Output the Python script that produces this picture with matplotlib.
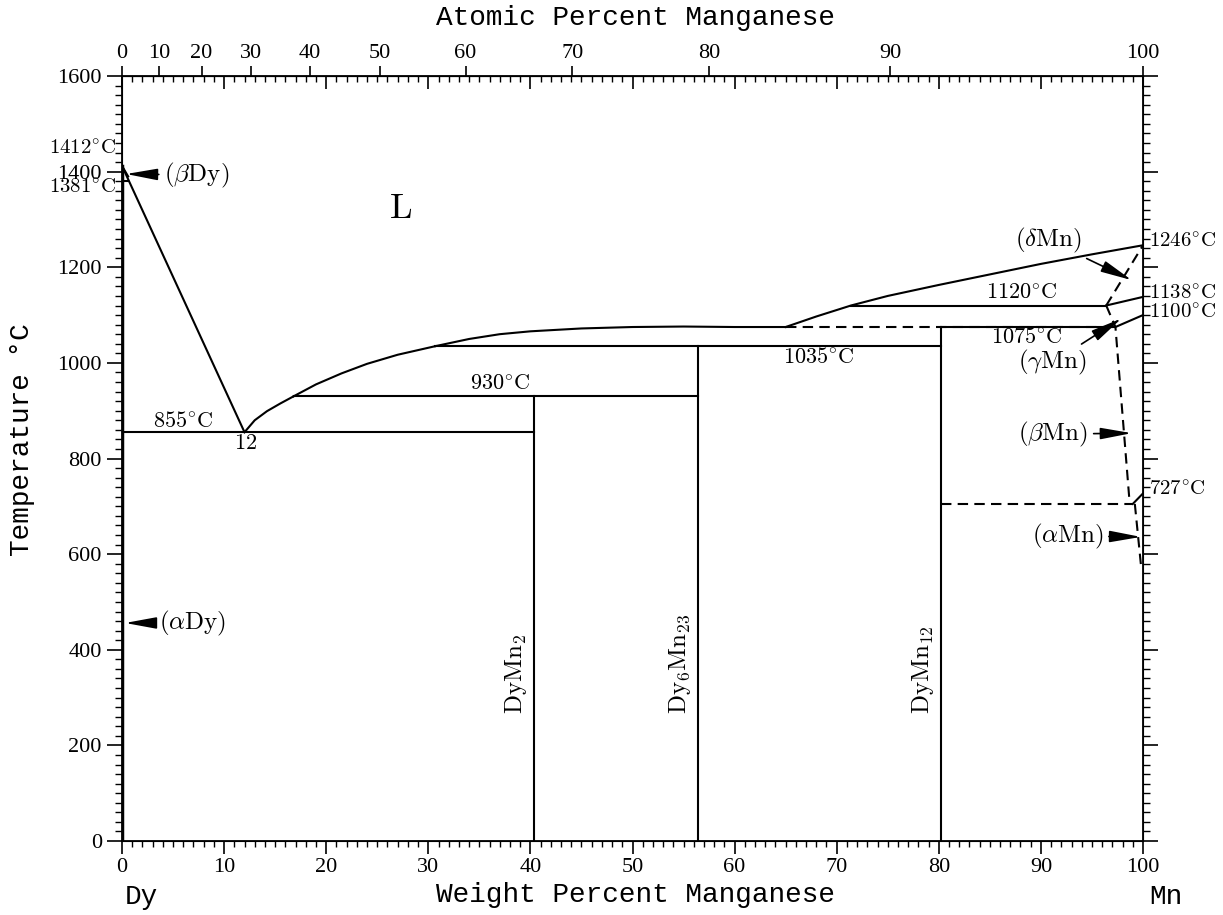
import numpy as np
import matplotlib
matplotlib.use('Agg')
import matplotlib.pyplot as plt
from matplotlib.ticker import MultipleLocator

plt.rcParams['font.family'] = ['Liberation Serif', 'DejaVu Serif']
plt.rcParams['mathtext.fontset'] = 'cm'

# atomic masses for the top axis
M_DY = 162.5
M_MN = 54.938

def at2wt(a):
    a = np.asarray(a, dtype=float)
    return 100 * a * M_MN / (a * M_MN + (100 - a) * M_DY)

# phase boundaries (wt% Mn, degC)
liq_dy_x = [0, 12]
liq_dy_t = [1412, 855]
liq1_x = [12, 13, 14.2, 15.5, 16.8]
liq1_t = [855, 880, 899, 915, 930]
liq2_x = [16.8, 19, 21.5, 24, 27, 30.7]
liq2_t = [930, 955, 978, 998, 1017, 1035]
liq3_x = [30.7, 34, 37, 40, 45, 50, 55, 60, 65]
liq3_t = [1035, 1050, 1060, 1066, 1072, 1075, 1076, 1075, 1075]
liq4_x = [65, 68, 71.4, 75, 80, 85, 90, 95, 100]
liq4_t = [1075, 1097, 1120, 1140, 1163, 1185, 1207, 1227, 1246]

# horizontals: (x0, x1, T)
horiz = [(0, 40.34, 855), (16.8, 56.44, 930), (30.7, 80.23, 1035),
         (80.23, 97.3, 1075), (71.4, 96.4, 1120)]
horiz_dashed = [(65, 97.3, 1075), (80.23, 99.0, 705)]

# compounds (wt% Mn, top temperature)
comp_x = [40.34, 56.44, 80.23]
comp_t = [930, 1035, 1075]
comp_lbl = [r'$\mathrm{DyMn}_2$', r'$\mathrm{Dy}_6\mathrm{Mn}_{23}$', r'$\mathrm{DyMn}_{12}$']

# Mn side solid lines
mn_solid = [([96.4, 100], [1120, 1138]), ([97.3, 100], [1075, 1100]),
            ([99.0, 100], [705, 727]), ([0, 0.6], [1412, 1390]), ([0, 0.6], [1381, 1381])]
# Mn side dashed lines
mn_dashed = [([96.4, 100], [1120, 1246]), ([96.4, 97.3, 98.7], [1120, 1075, 705]),
             ([99.2, 99.8], [705, 577])]

fig = plt.figure(figsize=(12.23, 9.15), dpi=100)
ax = fig.add_axes([122 / 1223, 74 / 915, 1021 / 1223, 765 / 915])
ax.set_xlim(0, 100)
ax.set_ylim(0, 1600)

lw = 1.5
k = 'black'
ax.plot([0, 0], [0, 1412], color=k, lw=2.5)
ax.plot(liq_dy_x, liq_dy_t, color=k, lw=lw)
for xs, ts in [(liq1_x, liq1_t), (liq2_x, liq2_t), (liq3_x, liq3_t), (liq4_x, liq4_t)]:
    ax.plot(xs, ts, color=k, lw=lw)
for x0, x1, t in horiz:
    ax.plot([x0, x1], [t, t], color=k, lw=lw)
for x0, x1, t in horiz_dashed:
    ax.plot([x0, x1], [t, t], color=k, lw=lw, ls=(0, (5, 3)))
for x, t in zip(comp_x, comp_t):
    ax.plot([x, x], [0, t], color=k, lw=lw)
for xs, ts in mn_solid:
    ax.plot(xs, ts, color=k, lw=lw)
for xs, ts in mn_dashed:
    ax.plot(xs, ts, color=k, lw=lw, ls=(0, (5, 3)))

for x, lbl in zip(comp_x, comp_lbl):
    ax.text(x - 0.5, 265, lbl, rotation=90, rotation_mode='anchor',
            ha='left', va='bottom', fontsize=18)

fs = 16
ax.text(27.3, 1320, r'$\mathrm{L}$', fontsize=26, ha='center', va='center')
ax.text(6, 876, r'$\mathrm{855^{\circ}C}$', fontsize=fs, ha='center', va='center')
ax.text(12.1, 830, r'$\mathrm{12}$', fontsize=fs, ha='center', va='center')
ax.text(37, 953, r'$\mathrm{930^{\circ}C}$', fontsize=fs, ha='center', va='center')
ax.text(68.2, 1010, r'$\mathrm{1035^{\circ}C}$', fontsize=fs, ha='center', va='center')
ax.text(88.1, 1144, r'$\mathrm{1120^{\circ}C}$', fontsize=fs, ha='center', va='center')
ax.text(88.6, 1052, r'$\mathrm{1075^{\circ}C}$', fontsize=fs, ha='center', va='center')
for t_lbl, t_pos in [(1246, 1251), (1138, 1143), (1100, 1102), (727, 733)]:
    ax.text(100.6, t_pos, r'$\mathrm{%d^{\circ}C}$' % t_lbl, fontsize=15,
            ha='left', va='center', clip_on=False)
ax.text(-0.6, 1446, r'$\mathrm{1412^{\circ}C}$', fontsize=15, ha='right', va='center', clip_on=False)
ax.text(-0.6, 1364, r'$\mathrm{1381^{\circ}C}$', fontsize=15, ha='right', va='center', clip_on=False)

arrow = dict(arrowstyle='-|>,head_length=1.2,head_width=0.22', color=k, lw=1.2,
             mutation_scale=16, shrinkA=2, shrinkB=0)
afs = 18
ax.annotate(r'$(\beta\mathrm{Dy})$', xy=(0.4, 1395), xytext=(7.35, 1393),
            fontsize=afs, ha='center', va='center', arrowprops=arrow)
ax.annotate(r'$(\alpha\mathrm{Dy})$', xy=(0.3, 456), xytext=(6.95, 456),
            fontsize=afs, ha='center', va='center', arrowprops=arrow)
ax.annotate(r'$(\delta\mathrm{Mn})$', xy=(98.9, 1173), xytext=(90.7, 1257),
            fontsize=afs, ha='center', va='center', arrowprops=arrow)
ax.annotate(r'$(\gamma\mathrm{Mn})$', xy=(97.9, 1093), xytext=(91.1, 1000),
            fontsize=afs, ha='center', va='center', arrowprops=arrow)
ax.annotate(r'$(\beta\mathrm{Mn})$', xy=(98.9, 853), xytext=(91.2, 851),
            fontsize=afs, ha='center', va='center', arrowprops=arrow)
ax.annotate(r'$(\alpha\mathrm{Mn})$', xy=(99.8, 636), xytext=(92.6, 638),
            fontsize=afs, ha='center', va='center', arrowprops=arrow)

# bottom / left / right ticks
ax.xaxis.set_major_locator(MultipleLocator(10))
ax.xaxis.set_minor_locator(MultipleLocator(1))
ax.yaxis.set_major_locator(MultipleLocator(200))
ax.yaxis.set_minor_locator(MultipleLocator(20))
ax.tick_params(axis='x', which='both', direction='out', top=False, labelsize=16)
ax.tick_params(axis='x', which='major', length=9, width=1.2)
ax.tick_params(axis='x', which='minor', length=4, width=1)
ax.tick_params(axis='y', which='both', direction='out', right=True, labelsize=16)
ax.tick_params(axis='y', which='major', length=11, width=1.2)
ax.tick_params(axis='y', which='minor', length=5, width=1)
for s in ax.spines.values():
    s.set_linewidth(1.3)

# top: weight percent ticks pointing in
sec = ax.secondary_xaxis('top')
sec.xaxis.set_major_locator(MultipleLocator(10))
sec.xaxis.set_minor_locator(MultipleLocator(1))
sec.tick_params(which='both', direction='in', labeltop=False)
sec.tick_params(which='major', length=9, width=1.2)
sec.tick_params(which='minor', length=4, width=1)

# top: atomic percent
at_ticks = [0, 10, 20, 30, 40, 50, 60, 70, 80, 90, 100]
ax2 = ax.twiny()
ax2.set_xlim(0, 100)
ax2.set_xticks(at2wt(at_ticks))
ax2.set_xticklabels([str(a) for a in at_ticks])
ax2.tick_params(axis='x', direction='out', length=7, width=1.2, labelsize=16, pad=2)

fig.text(636 / 1223, 1 - 18 / 915, 'Atomic Percent Manganese', family='Liberation Mono',
         fontsize=20, ha='center', va='center')
fig.text(636 / 1223, 1 - 895 / 915, 'Weight Percent Manganese', family='Liberation Mono',
         fontsize=20, ha='center', va='center')
fig.text(22 / 1223, 1 - 440 / 915, 'Temperature °C', family='Liberation Mono',
         fontsize=20, ha='center', va='center', rotation=90)
fig.text(141 / 1223, 1 - 897 / 915, 'Dy', family='Liberation Mono', fontsize=20,
         ha='center', va='center')
fig.text(1166 / 1223, 1 - 897 / 915, 'Mn', family='Liberation Mono', fontsize=20,
         ha='center', va='center')

fig.savefig('out.png', dpi=100)
